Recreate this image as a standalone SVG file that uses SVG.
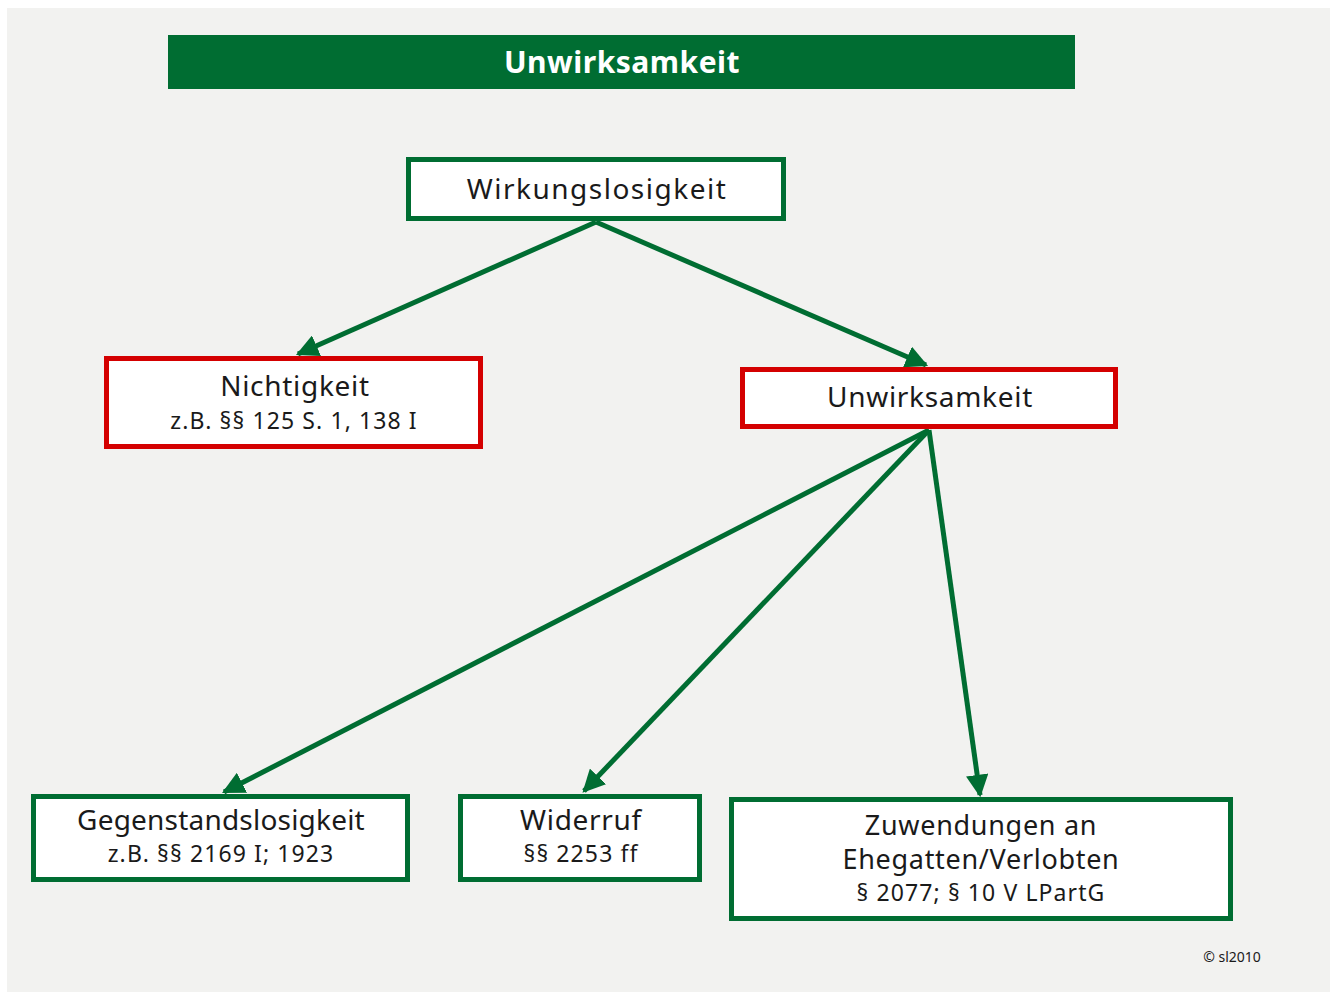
<svg xmlns="http://www.w3.org/2000/svg" width="1336" height="992" viewBox="0 0 1336 992">
<defs>
<marker id="ah" viewBox="0 0 10 10" refX="9" refY="5" markerWidth="4.5" markerHeight="4.5" orient="auto" markerUnits="strokeWidth">
<path d="M0,0 L10,5 L0,10 z" fill="#006d32"/>
</marker>
<style>
.g{fill:#ffffff;stroke:#006d32;stroke-width:5}
.r{fill:#ffffff;stroke:#d40000;stroke-width:5}
.t{font-family:"Noto Sans","Open Sans","DejaVu Sans",sans-serif;fill:#1a1a1a;text-anchor:middle}
.h{font-size:28px;letter-spacing:0.7px}
.s{font-size:23px;letter-spacing:1.1px}
.c{stroke:#006d32;stroke-width:5;fill:none;marker-end:url(#ah)}
</style>
</defs>
<rect width="1336" height="992" fill="#ffffff"/>
<rect x="7" y="8" width="1323" height="984" fill="#f2f2f0"/>
<g id="banner">
<rect x="168" y="35" width="907" height="54" fill="#006d32"/>
<text x="622" y="73" class="t" style="fill:#ffffff;font-size:30px;font-weight:bold;letter-spacing:0.5px">Unwirksamkeit</text>
</g>
<g id="connectors">
<line class="c" x1="596" y1="222" x2="298" y2="354"/>
<line class="c" x1="596" y1="222" x2="926" y2="365"/>
<line class="c" x1="929" y1="430" x2="224" y2="792"/>
<line class="c" x1="929" y1="430" x2="584" y2="791"/>
<line class="c" x1="929" y1="430" x2="980" y2="795"/>
</g>
<g id="wirkungslosigkeit">
<rect class="g" x="408.5" y="159.5" width="375" height="59"/>
<text x="597" y="199" class="t h" style="letter-spacing:1.5px">Wirkungslosigkeit</text>
</g>
<g id="nichtigkeit">
<rect class="r" x="106.5" y="358.5" width="374" height="88"/>
<text x="295" y="396" class="t h">Nichtigkeit</text>
<text x="294" y="429" class="t s">z.B. §§ 125 S. 1, 138 I</text>
</g>
<g id="unwirksamkeit">
<rect class="r" x="742.5" y="369.5" width="373" height="57"/>
<text x="930" y="407" class="t h">Unwirksamkeit</text>
</g>
<g id="gegenstandslosigkeit">
<rect class="g" x="33.5" y="796.5" width="374" height="83"/>
<text x="221" y="830" class="t h" style="letter-spacing:0.2px">Gegenstandslosigkeit</text>
<text x="221" y="862" class="t s">z.B. §§ 2169 I; 1923</text>
</g>
<g id="widerruf">
<rect class="g" x="460.5" y="796.5" width="239" height="83"/>
<text x="581" y="830" class="t h">Widerruf</text>
<text x="581" y="862" class="t s">§§ 2253 ff</text>
</g>
<g id="zuwendungen">
<rect class="g" x="731.5" y="799.5" width="499" height="119"/>
<text x="981" y="835" class="t h" style="font-size:27px">Zuwendungen an</text>
<text x="981" y="869" class="t h" style="font-size:27px">Ehegatten/Verlobten</text>
<text x="981" y="901" class="t s">§ 2077; § 10 V LPartG</text>
</g>
<text x="1232" y="962" class="t" style="font-size:14px">© sl2010</text>
</svg>
